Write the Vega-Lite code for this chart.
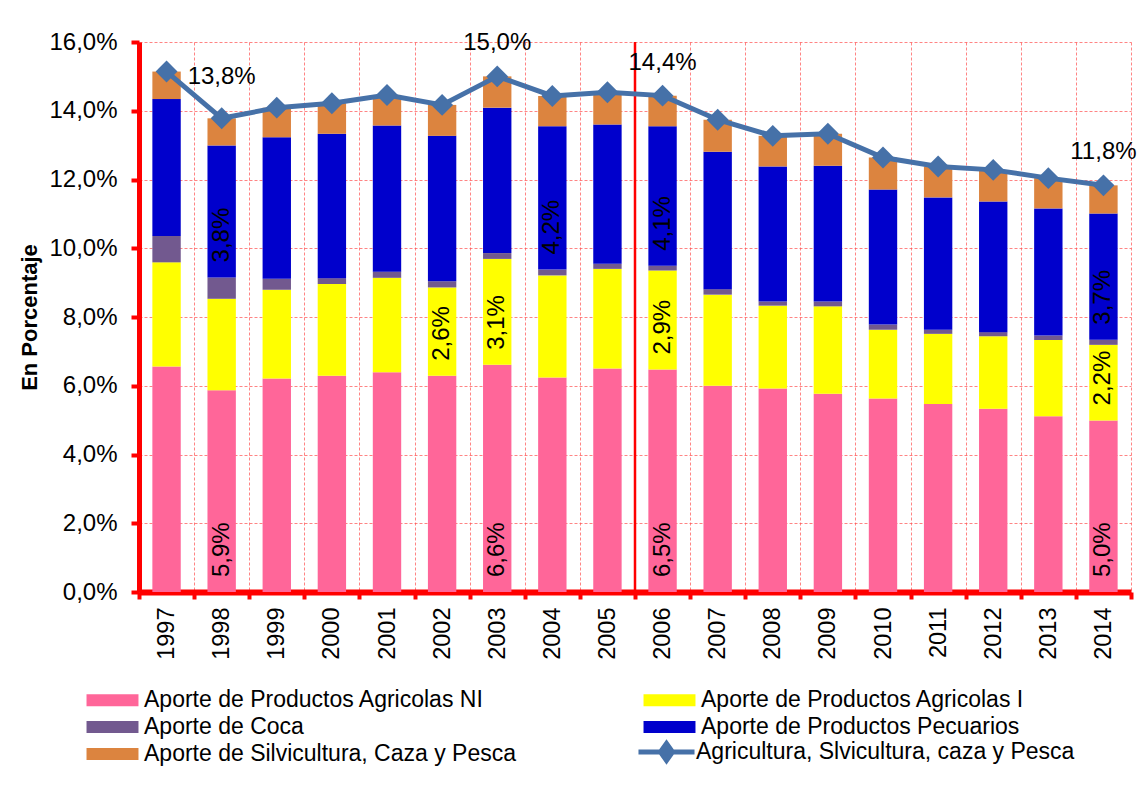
{
  "$schema": "https://vega.github.io/schema/vega-lite/v6.json",
  "width": 992,
  "height": 550,
  "autosize": {"type": "none"},
  "padding": {"left": 139, "top": 42, "right": 10, "bottom": 199},
  "background": "white",
  "config": {
    "locale": {"number": {"decimal": ",", "thousands": ".", "grouping": [3], "currency": ["", " €"]}},
    "view": {"stroke": null},
    "font": "Liberation Sans",
    "axis": {
      "labelFont": "Liberation Sans",
      "labelColor": "black",
      "domainColor": "#FF0000",
      "tickColor": "#FF0000",
      "gridColor": "#FF5050",
      "gridDash": [3, 2],
      "gridOpacity": 0.7,
      "gridWidth": 1,
      "grid": true
    },
    "axisX": {
      "labelAngle": 270,
      "labelFontSize": 23.5,
      "labelPadding": 8,
      "tickBand": "extent",
      "tickSize": 7,
      "tickWidth": 4,
      "domainWidth": 6
    },
    "axisY": {
      "labelFontSize": 24,
      "labelPadding": 14,
      "tickSize": 8,
      "tickWidth": 4,
      "domainWidth": 5,
      "titleFontSize": 22,
      "titleFontWeight": "bold",
      "titleFont": "Liberation Sans",
      "titleColor": "black",
      "titlePadding": 7
    }
  },
  "datasets": {
    "aportes": [
      {"anio": 1997, "serie": "Aporte de  Productos Agricolas NI", "orden": 1, "valor": 0.0656},
      {"anio": 1997, "serie": "Aporte de Productos Agricolas I", "orden": 2, "valor": 0.0303},
      {"anio": 1997, "serie": "Aporte de Coca", "orden": 3, "valor": 0.0077},
      {"anio": 1997, "serie": "Aporte de Productos Pecuarios", "orden": 4, "valor": 0.0398},
      {"anio": 1997, "serie": "Aporte de Silvicultura, Caza y Pesca", "orden": 5, "valor": 0.0080},
      {"anio": 1998, "serie": "Aporte de  Productos Agricolas NI", "orden": 1, "valor": 0.0587},
      {"anio": 1998, "serie": "Aporte de Productos Agricolas I", "orden": 2, "valor": 0.0266},
      {"anio": 1998, "serie": "Aporte de Coca", "orden": 3, "valor": 0.0062},
      {"anio": 1998, "serie": "Aporte de Productos Pecuarios", "orden": 4, "valor": 0.0384},
      {"anio": 1998, "serie": "Aporte de Silvicultura, Caza y Pesca", "orden": 5, "valor": 0.0079},
      {"anio": 1999, "serie": "Aporte de  Productos Agricolas NI", "orden": 1, "valor": 0.0621},
      {"anio": 1999, "serie": "Aporte de Productos Agricolas I", "orden": 2, "valor": 0.0258},
      {"anio": 1999, "serie": "Aporte de Coca", "orden": 3, "valor": 0.0032},
      {"anio": 1999, "serie": "Aporte de Productos Pecuarios", "orden": 4, "valor": 0.0412},
      {"anio": 1999, "serie": "Aporte de Silvicultura, Caza y Pesca", "orden": 5, "valor": 0.0086},
      {"anio": 2000, "serie": "Aporte de  Productos Agricolas NI", "orden": 1, "valor": 0.0629},
      {"anio": 2000, "serie": "Aporte de Productos Agricolas I", "orden": 2, "valor": 0.0267},
      {"anio": 2000, "serie": "Aporte de Coca", "orden": 3, "valor": 0.0017},
      {"anio": 2000, "serie": "Aporte de Productos Pecuarios", "orden": 4, "valor": 0.0420},
      {"anio": 2000, "serie": "Aporte de Silvicultura, Caza y Pesca", "orden": 5, "valor": 0.0089},
      {"anio": 2001, "serie": "Aporte de  Productos Agricolas NI", "orden": 1, "valor": 0.0639},
      {"anio": 2001, "serie": "Aporte de Productos Agricolas I", "orden": 2, "valor": 0.0275},
      {"anio": 2001, "serie": "Aporte de Coca", "orden": 3, "valor": 0.0018},
      {"anio": 2001, "serie": "Aporte de Productos Pecuarios", "orden": 4, "valor": 0.0425},
      {"anio": 2001, "serie": "Aporte de Silvicultura, Caza y Pesca", "orden": 5, "valor": 0.0089},
      {"anio": 2002, "serie": "Aporte de  Productos Agricolas NI", "orden": 1, "valor": 0.0629},
      {"anio": 2002, "serie": "Aporte de Productos Agricolas I", "orden": 2, "valor": 0.0257},
      {"anio": 2002, "serie": "Aporte de Coca", "orden": 3, "valor": 0.0018},
      {"anio": 2002, "serie": "Aporte de Productos Pecuarios", "orden": 4, "valor": 0.0423},
      {"anio": 2002, "serie": "Aporte de Silvicultura, Caza y Pesca", "orden": 5, "valor": 0.0090},
      {"anio": 2003, "serie": "Aporte de  Productos Agricolas NI", "orden": 1, "valor": 0.0661},
      {"anio": 2003, "serie": "Aporte de Productos Agricolas I", "orden": 2, "valor": 0.0308},
      {"anio": 2003, "serie": "Aporte de Coca", "orden": 3, "valor": 0.0017},
      {"anio": 2003, "serie": "Aporte de Productos Pecuarios", "orden": 4, "valor": 0.0423},
      {"anio": 2003, "serie": "Aporte de Silvicultura, Caza y Pesca", "orden": 5, "valor": 0.0091},
      {"anio": 2004, "serie": "Aporte de  Productos Agricolas NI", "orden": 1, "valor": 0.0624},
      {"anio": 2004, "serie": "Aporte de Productos Agricolas I", "orden": 2, "valor": 0.0297},
      {"anio": 2004, "serie": "Aporte de Coca", "orden": 3, "valor": 0.0017},
      {"anio": 2004, "serie": "Aporte de Productos Pecuarios", "orden": 4, "valor": 0.0417},
      {"anio": 2004, "serie": "Aporte de Silvicultura, Caza y Pesca", "orden": 5, "valor": 0.0088},
      {"anio": 2005, "serie": "Aporte de  Productos Agricolas NI", "orden": 1, "valor": 0.0650},
      {"anio": 2005, "serie": "Aporte de Productos Agricolas I", "orden": 2, "valor": 0.0290},
      {"anio": 2005, "serie": "Aporte de Coca", "orden": 3, "valor": 0.0015},
      {"anio": 2005, "serie": "Aporte de Productos Pecuarios", "orden": 4, "valor": 0.0405},
      {"anio": 2005, "serie": "Aporte de Silvicultura, Caza y Pesca", "orden": 5, "valor": 0.0094},
      {"anio": 2006, "serie": "Aporte de  Productos Agricolas NI", "orden": 1, "valor": 0.0647},
      {"anio": 2006, "serie": "Aporte de Productos Agricolas I", "orden": 2, "valor": 0.0288},
      {"anio": 2006, "serie": "Aporte de Coca", "orden": 3, "valor": 0.0014},
      {"anio": 2006, "serie": "Aporte de Productos Pecuarios", "orden": 4, "valor": 0.0406},
      {"anio": 2006, "serie": "Aporte de Silvicultura, Caza y Pesca", "orden": 5, "valor": 0.0089},
      {"anio": 2007, "serie": "Aporte de  Productos Agricolas NI", "orden": 1, "valor": 0.0600},
      {"anio": 2007, "serie": "Aporte de Productos Agricolas I", "orden": 2, "valor": 0.0265},
      {"anio": 2007, "serie": "Aporte de Coca", "orden": 3, "valor": 0.0016},
      {"anio": 2007, "serie": "Aporte de Productos Pecuarios", "orden": 4, "valor": 0.0400},
      {"anio": 2007, "serie": "Aporte de Silvicultura, Caza y Pesca", "orden": 5, "valor": 0.0093},
      {"anio": 2008, "serie": "Aporte de  Productos Agricolas NI", "orden": 1, "valor": 0.0592},
      {"anio": 2008, "serie": "Aporte de Productos Agricolas I", "orden": 2, "valor": 0.0241},
      {"anio": 2008, "serie": "Aporte de Coca", "orden": 3, "valor": 0.0012},
      {"anio": 2008, "serie": "Aporte de Productos Pecuarios", "orden": 4, "valor": 0.0393},
      {"anio": 2008, "serie": "Aporte de Silvicultura, Caza y Pesca", "orden": 5, "valor": 0.0089},
      {"anio": 2009, "serie": "Aporte de  Productos Agricolas NI", "orden": 1, "valor": 0.0577},
      {"anio": 2009, "serie": "Aporte de Productos Agricolas I", "orden": 2, "valor": 0.0254},
      {"anio": 2009, "serie": "Aporte de Coca", "orden": 3, "valor": 0.0014},
      {"anio": 2009, "serie": "Aporte de Productos Pecuarios", "orden": 4, "valor": 0.0395},
      {"anio": 2009, "serie": "Aporte de Silvicultura, Caza y Pesca", "orden": 5, "valor": 0.0093},
      {"anio": 2010, "serie": "Aporte de  Productos Agricolas NI", "orden": 1, "valor": 0.0563},
      {"anio": 2010, "serie": "Aporte de Productos Agricolas I", "orden": 2, "valor": 0.0200},
      {"anio": 2010, "serie": "Aporte de Coca", "orden": 3, "valor": 0.0015},
      {"anio": 2010, "serie": "Aporte de Productos Pecuarios", "orden": 4, "valor": 0.0393},
      {"anio": 2010, "serie": "Aporte de Silvicultura, Caza y Pesca", "orden": 5, "valor": 0.0093},
      {"anio": 2011, "serie": "Aporte de  Productos Agricolas NI", "orden": 1, "valor": 0.0547},
      {"anio": 2011, "serie": "Aporte de Productos Agricolas I", "orden": 2, "valor": 0.0204},
      {"anio": 2011, "serie": "Aporte de Coca", "orden": 3, "valor": 0.0012},
      {"anio": 2011, "serie": "Aporte de Productos Pecuarios", "orden": 4, "valor": 0.0385},
      {"anio": 2011, "serie": "Aporte de Silvicultura, Caza y Pesca", "orden": 5, "valor": 0.0090},
      {"anio": 2012, "serie": "Aporte de  Productos Agricolas NI", "orden": 1, "valor": 0.0533},
      {"anio": 2012, "serie": "Aporte de Productos Agricolas I", "orden": 2, "valor": 0.0211},
      {"anio": 2012, "serie": "Aporte de Coca", "orden": 3, "valor": 0.0012},
      {"anio": 2012, "serie": "Aporte de Productos Pecuarios", "orden": 4, "valor": 0.0380},
      {"anio": 2012, "serie": "Aporte de Silvicultura, Caza y Pesca", "orden": 5, "valor": 0.0092},
      {"anio": 2013, "serie": "Aporte de  Productos Agricolas NI", "orden": 1, "valor": 0.0511},
      {"anio": 2013, "serie": "Aporte de Productos Agricolas I", "orden": 2, "valor": 0.0222},
      {"anio": 2013, "serie": "Aporte de Coca", "orden": 3, "valor": 0.0013},
      {"anio": 2013, "serie": "Aporte de Productos Pecuarios", "orden": 4, "valor": 0.0370},
      {"anio": 2013, "serie": "Aporte de Silvicultura, Caza y Pesca", "orden": 5, "valor": 0.0088},
      {"anio": 2014, "serie": "Aporte de  Productos Agricolas NI", "orden": 1, "valor": 0.0499},
      {"anio": 2014, "serie": "Aporte de Productos Agricolas I", "orden": 2, "valor": 0.0220},
      {"anio": 2014, "serie": "Aporte de Coca", "orden": 3, "valor": 0.0015},
      {"anio": 2014, "serie": "Aporte de Productos Pecuarios", "orden": 4, "valor": 0.0367},
      {"anio": 2014, "serie": "Aporte de Silvicultura, Caza y Pesca", "orden": 5, "valor": 0.0082}
    ],
    "total": [
      {"anio": 1997, "total": 0.1514},
      {"anio": 1998, "total": 0.1378},
      {"anio": 1999, "total": 0.1409},
      {"anio": 2000, "total": 0.1422},
      {"anio": 2001, "total": 0.1446},
      {"anio": 2002, "total": 0.1417},
      {"anio": 2003, "total": 0.1500},
      {"anio": 2004, "total": 0.1443},
      {"anio": 2005, "total": 0.1454},
      {"anio": 2006, "total": 0.1444},
      {"anio": 2007, "total": 0.1374},
      {"anio": 2008, "total": 0.1327},
      {"anio": 2009, "total": 0.1333},
      {"anio": 2010, "total": 0.1264},
      {"anio": 2011, "total": 0.1238},
      {"anio": 2012, "total": 0.1228},
      {"anio": 2013, "total": 0.1204},
      {"anio": 2014, "total": 0.1183}
    ]
  },
  "layer": [
    {
      "data": {"name": "aportes"},
      "mark": {"type": "bar", "width": {"band": 0.515}},
      "encoding": {
        "x": {"field": "anio", "type": "ordinal", "title": null, "scale": {"paddingInner": 0, "paddingOuter": 0}},
        "y": {"field": "valor", "type": "quantitative", "stack": "zero", "title": "En Porcentaje", "scale": {"domain": [0, 0.16], "nice": false}, "axis": {"values": [0, 0.02, 0.04, 0.06, 0.08, 0.1, 0.12, 0.14, 0.16], "format": ".1%"}},
        "order": {"field": "orden", "type": "quantitative"},
        "fill": {
          "field": "serie",
          "type": "nominal",
          "scale": {
            "domain": ["Aporte de  Productos Agricolas NI", "Aporte de Coca", "Aporte de Silvicultura, Caza y Pesca", "Aporte de Productos Agricolas I", "Aporte de Productos Pecuarios"],
            "range": ["#FF6699", "#72598F", "#DC843F", "#FFFF00", "#0000CC"]
          },
          "legend": {
            "orient": "none",
            "legendX": -58,
            "legendY": 646.5,
            "columns": 2,
            "title": null,
            "symbolType": "M-4.33,-1H4.33V1H-4.33Z",
            "symbolSize": 144,
            "symbolOffset": 20,
            "symbolStrokeWidth": 0,
            "labelFontSize": 23,
            "labelFont": "Liberation Sans",
            "labelColor": "black",
            "labelLimit": 600,
            "labelOffset": 20,
            "columnPadding": 121,
            "rowPadding": 3,
            "padding": 0
          }
        }
      }
    },
    {
      "data": {"name": "total"},
      "transform": [{"filter": "datum.anio == 2006"}],
      "mark": {"type": "rule", "color": "#FF0000", "strokeWidth": 2.5},
      "encoding": {
        "x": {"field": "anio", "type": "ordinal", "title": null, "bandPosition": 0}
      }
    },
    {
      "data": {"name": "total"},
      "mark": {"type": "line", "strokeWidth": 5},
      "encoding": {
        "x": {"field": "anio", "type": "ordinal", "title": null},
        "y": {"field": "total", "type": "quantitative", "title": "En Porcentaje", "scale": {"domain": [0, 0.16], "nice": false}, "axis": {"values": [0, 0.02, 0.04, 0.06, 0.08, 0.1, 0.12, 0.14, 0.16], "format": ".1%"}},
        "stroke": {
          "datum": "Agricultura, Slvicultura, caza y Pesca",
          "scale": {"range": ["#4671A8"]},
          "legend": {
            "orient": "none",
            "legendX": 494,
            "legendY": 698.5,
            "title": null,
            "symbolType": "M-4.67,0H4.67M-1,0L0,-1.4L1,0L0,1.4Z",
            "symbolSize": 144,
            "symbolOffset": 22,
            "symbolStrokeWidth": 5,
            "symbolFillColor": "#4671A8",
            "labelFontSize": 23,
            "labelFont": "Liberation Sans",
            "labelColor": "black",
            "labelLimit": 600,
            "labelOffset": 18,
            "padding": 0
          }
        }
      }
    },
    {
      "data": {"name": "total"},
      "mark": {"type": "point", "shape": "diamond", "filled": true, "size": 480, "color": "#4671A8", "opacity": 1},
      "encoding": {
        "x": {"field": "anio", "type": "ordinal", "title": null},
        "y": {"field": "total", "type": "quantitative", "title": "En Porcentaje", "scale": {"domain": [0, 0.16], "nice": false}, "axis": {"values": [0, 0.02, 0.04, 0.06, 0.08, 0.1, 0.12, 0.14, 0.16], "format": ".1%"}}
      }
    },
    {
      "data": {"name": "aportes"},
      "transform": [
        {"stack": "valor", "groupby": ["anio"], "sort": [{"field": "orden", "order": "ascending"}], "as": ["v0", "v1"]},
        {"filter": "(datum.orden == 1 && indexof([1998,2003,2006,2014], datum.anio) >= 0) || (datum.orden == 2 && indexof([2002,2003,2006,2014], datum.anio) >= 0) || (datum.orden == 4 && indexof([1998,2004,2006,2014], datum.anio) >= 0)"}
      ],
      "mark": {"type": "text", "angle": 270, "align": "left", "baseline": "middle", "dx": 15, "fontSize": 24, "font": "Liberation Sans", "color": "black"},
      "encoding": {
        "x": {"field": "anio", "type": "ordinal", "title": null},
        "y": {"field": "v0", "type": "quantitative", "title": "En Porcentaje", "scale": {"domain": [0, 0.16], "nice": false}, "axis": {"values": [0, 0.02, 0.04, 0.06, 0.08, 0.1, 0.12, 0.14, 0.16], "format": ".1%"}},
        "text": {"field": "valor", "type": "quantitative", "format": ".1%"}
      }
    },
    {
      "data": {"name": "total"},
      "transform": [{"filter": "datum.anio == 2003 || datum.anio == 2006 || datum.anio == 2014"}],
      "mark": {"type": "text", "align": "center", "baseline": "middle", "dy": -33, "fontSize": 24, "font": "Liberation Sans", "color": "black"},
      "encoding": {
        "x": {"field": "anio", "type": "ordinal", "title": null},
        "y": {"field": "total", "type": "quantitative", "title": "En Porcentaje", "scale": {"domain": [0, 0.16], "nice": false}, "axis": {"values": [0, 0.02, 0.04, 0.06, 0.08, 0.1, 0.12, 0.14, 0.16], "format": ".1%"}},
        "text": {"field": "total", "type": "quantitative", "format": ".1%"}
      }
    },
    {
      "data": {"name": "total"},
      "transform": [{"filter": "datum.anio == 1998"}],
      "mark": {"type": "text", "align": "center", "baseline": "middle", "dy": -41, "fontSize": 24, "font": "Liberation Sans", "color": "black"},
      "encoding": {
        "x": {"field": "anio", "type": "ordinal", "title": null},
        "y": {"field": "total", "type": "quantitative", "title": "En Porcentaje", "scale": {"domain": [0, 0.16], "nice": false}, "axis": {"values": [0, 0.02, 0.04, 0.06, 0.08, 0.1, 0.12, 0.14, 0.16], "format": ".1%"}},
        "text": {"field": "total", "type": "quantitative", "format": ".1%"}
      }
    }
  ]
}
